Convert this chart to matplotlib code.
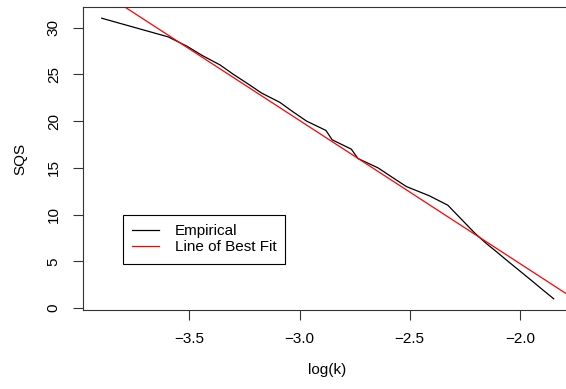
import matplotlib
matplotlib.use('Agg')
import matplotlib.pyplot as plt
import numpy as np

plt.rcParams['font.family'] = ['Liberation Sans', 'DejaVu Sans']

# Curva empirica: log(k) x SQS
log_k = [-3.897, -3.595, -3.51, -3.44, -3.36, -3.30, -3.235, -3.172, -3.089,
         -3.03, -2.968, -2.88, -2.852, -2.765, -2.735, -2.644, -2.58, -2.515,
         -2.41, -2.327, -2.286, -2.245, -2.204, -2.157, -2.105, -2.054, -2.002,
         -1.95, -1.899, -1.847]
sqs = [31, 29, 28, 27, 26, 25, 24, 23, 22,
       21, 20, 19, 18, 17, 16, 15, 14, 13,
       12, 11, 10, 9, 8, 7, 6, 5, 4,
       3, 2, 1]

# Reta de melhor ajuste
intercepto = -25.86
inclinacao = -15.31

fig = plt.figure(figsize=(5.66, 3.89), dpi=100)
ax = fig.add_axes([83 / 566, (389 - 310) / 389, (572 - 83) / 566, (310 - 7) / 389])

ax.plot(log_k, sqs, color='black', linewidth=0.9, label='Empirical')
xr = np.array([-4.2, -1.5])
ax.plot(xr, intercepto + inclinacao * xr, color='red', linewidth=0.9, label='Line of Best Fit')

ax.set_xlim(-3.982, -1.764)
ax.set_ylim(-0.2, 32.2)
ax.set_xticks([-3.5, -3.0, -2.5, -2.0])
ax.set_xticklabels(['\u22123.5', '\u22123.0', '\u22122.5', '\u22122.0'])
ax.set_yticks([0, 5, 10, 15, 20, 25, 30])
for lbl in ax.get_yticklabels():
    lbl.set_rotation(90)
    lbl.set_va('center')
ax.tick_params(axis='both', labelsize=11, length=7, width=0.8, pad=9, color='#333333')
for s in ax.spines.values():
    s.set_linewidth(0.8)
    s.set_color('#333333')

ax.set_xlabel('log(k)', fontsize=11, labelpad=12)
ax.set_ylabel('SQS', fontsize=11, labelpad=14)

leg = ax.legend(loc='upper left', bbox_to_anchor=(122.7 / 566, 1 - 215 / 389),
                bbox_transform=fig.transFigure, fontsize=11, frameon=True,
                fancybox=False, edgecolor='black', framealpha=1,
                borderaxespad=0, borderpad=0.6, handlelength=1.8,
                handletextpad=1.0, labelspacing=0.15)
leg.get_frame().set_linewidth(0.8)

fig.savefig('out.png', dpi=100)
